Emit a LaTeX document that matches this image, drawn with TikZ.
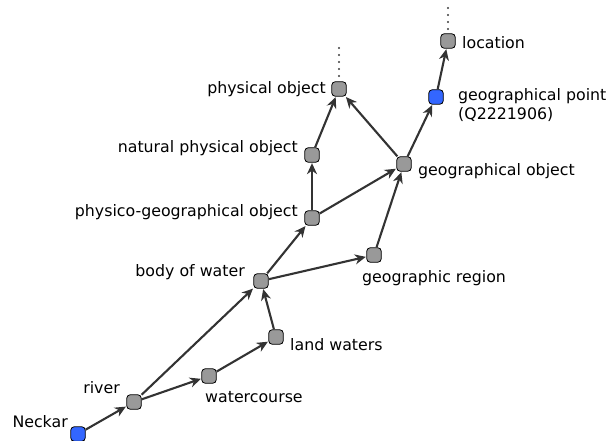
\documentclass[tikz,border=0pt]{standalone}
\usepackage{fontspec}
\setmainfont{DejaVu Sans}
\usetikzlibrary{arrows.meta}
\begin{document}
\begin{tikzpicture}[x=1pt,y=-1pt,
  cls/.style={draw=black, line width=0.8pt, fill=gray!80!white, rounded corners=3.5pt, minimum size=14.5pt, inner sep=0pt},
  inst/.style={cls, fill={rgb,255:red,51;green,102;blue,255}},
  lbl/.style={inner sep=0pt, font=\fontsize{15.8}{18.5}\selectfont, text=black},
  edge/.style={draw={rgb,255:red,51;green,51;blue,51}, line width=2.1pt, -{Stealth[length=11pt,width=10pt,inset=3.5pt]}, shorten >=0.5pt},
  dot/.style={fill={rgb,255:red,60;green,60;blue,60}, circle, inner sep=0pt, minimum size=2.2pt}
]
\useasboundingbox (0,0) rectangle (613,441);

\node[inst] (neckar) at (78,434) {};
\node[cls] (river) at (134,402) {};
\node[cls] (water) at (209,376) {};
\node[cls] (land) at (276,337) {};
\node[cls] (body) at (261,281) {};
\node[cls] (region) at (374,255) {};
\node[cls] (physgeo) at (312,218) {};
\node[cls] (natural) at (312,155) {};
\node[cls] (phys) at (339,89) {};
\node[cls] (geoobj) at (404,164) {};
\node[inst] (geopt) at (436,97) {};
\node[cls] (loc) at (448,41) {};

\node[lbl, anchor=east] (l-neckar) at (68,422) {Neckar};
\node[lbl, anchor=east] (l-river) at (120,388) {river};
\node[lbl, anchor=west] (l-water) at (205,397) {watercourse};
\node[lbl, anchor=west] (l-land) at (290,345) {land waters};
\node[lbl, anchor=east] (l-body) at (245,272) {body of water};
\node[lbl, anchor=west] (l-region) at (362,278) {geographic region};
\node[lbl, anchor=east] (l-physgeo) at (298,212) {physico-geographical object};
\node[lbl, anchor=east] (l-natural) at (298,148) {natural physical object};
\node[lbl, anchor=east] (l-phys) at (326,89) {physical object};
\node[lbl, anchor=west] (l-geoobj) at (418,171) {geographical object};
\node[lbl, anchor=west, align=left] (l-geopt) at (458,105) {geographical point\\(Q2221906)};
\node[lbl, anchor=west] (l-loc) at (462,43) {location};

\foreach \y [count=\i] in {48,55,62,69,76} \node[dot] (pd\i) at (339,\y) {};
\foreach \y [count=\i] in {8,15,22,29} \node[dot] (ld\i) at (448,\y) {};

\draw[edge] (neckar) -- (river);
\draw[edge] (river) -- (water);
\draw[edge] (river) -- (body);
\draw[edge] (water) -- (land);
\draw[edge] (land) -- (body);
\draw[edge] (body) -- (region);
\draw[edge] (body) -- (physgeo);
\draw[edge] (region) -- (geoobj);
\draw[edge] (physgeo) -- (natural);
\draw[edge] (physgeo) -- (geoobj);
\draw[edge] (natural) -- (phys);
\draw[edge] (geoobj) -- (phys);
\draw[edge] (geoobj) -- (geopt);
\draw[edge] (geopt) -- (loc);
\end{tikzpicture}
\end{document}
